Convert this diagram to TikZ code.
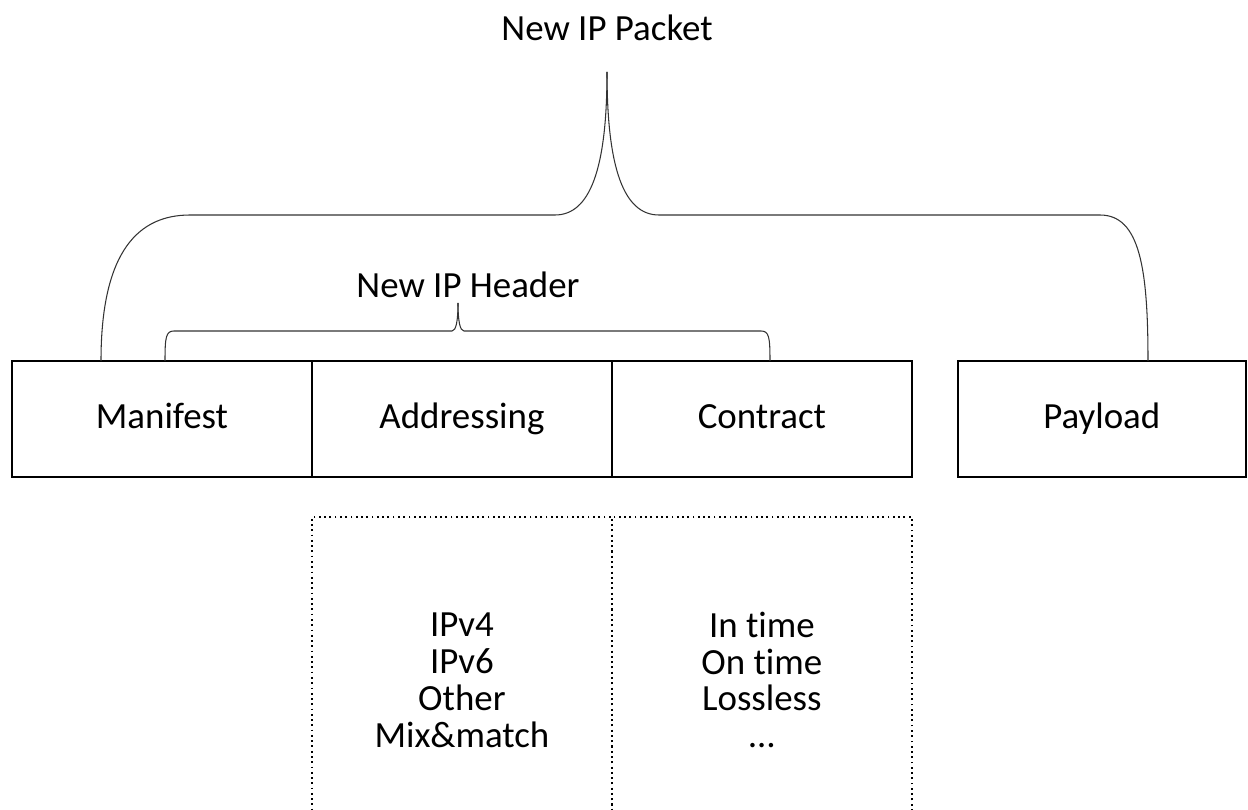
\documentclass[tikz,border=0pt]{standalone}
\usepackage{fontspec}
\setmainfont{Carlito}[Ligatures=NoCommon]
\usepackage{tikz}
\usetikzlibrary{positioning}

\begin{document}
\begin{tikzpicture}[x=0.02cm, y=0.02cm, font=\fontsize{21}{21}\selectfont]

    \tikzstyle{field} = [rectangle, minimum width=6cm, minimum height=2.32cm, outer sep=0pt, text height=2.6ex, text depth=0.45ex, text centered, draw=black, line width=1.1pt]
    \tikzstyle{options} = [rectangle, minimum width=6cm, minimum height=6.52cm, outer sep=0pt, align=center, draw=black, dotted, line width=1pt]
    \tikzstyle{brace} = [draw=black!80, line width=0.6pt]

    \clip (0,0) rectangle (1248,809);

    \node[field] (man) at (162,390) {Manifest};
    \node[field, right=0pt of man] (addr) {Addressing};
    \node[field, right=0pt of addr] (con) {Contract};
    \node[field, right=0.92cm of con, minimum width=5.76cm] (pay) {Payload};

    \node[options, below=0.8cm of addr] (addrlist) {IPv4\\IPv6\\Other\\Mix\&match};
    \node[options, below=0.8cm of con] (conlist) {In time\\On time\\Lossless\\\dots};

    \node (packet) at (607,781) {New IP Packet};
    \node (header) at (468,524) {New IP Header};

    % big brace over the whole packet
    \coordinate (pl) at (101,448);
    \coordinate (pr) at (1148,448);
    \coordinate (ptip) at (607,737);
    \draw[brace] (pl) .. controls (101,560) and (140,594) .. (190,594) -- (555,594)
        .. controls (590,594) and (607,640) .. (ptip);
    \draw[brace] (ptip) .. controls (607,640) and (624,594) .. (659,594) -- (1100,594)
        .. controls (1140,594) and (1148,540) .. (pr);

    % small brace over the header fields
    \coordinate (hl) at (165,448);
    \coordinate (hr) at (770,448);
    \coordinate (htip) at (458,506);
    \draw[brace] (hl) .. controls (165,472) and (166,478) .. (174,478) -- (452,478)
        .. controls (456,478) and (458,488) .. (htip);
    \draw[brace] (htip) .. controls (458,488) and (460,478) .. (464,478) -- (761,478)
        .. controls (769,478) and (770,472) .. (hr);

\end{tikzpicture}
\end{document}
